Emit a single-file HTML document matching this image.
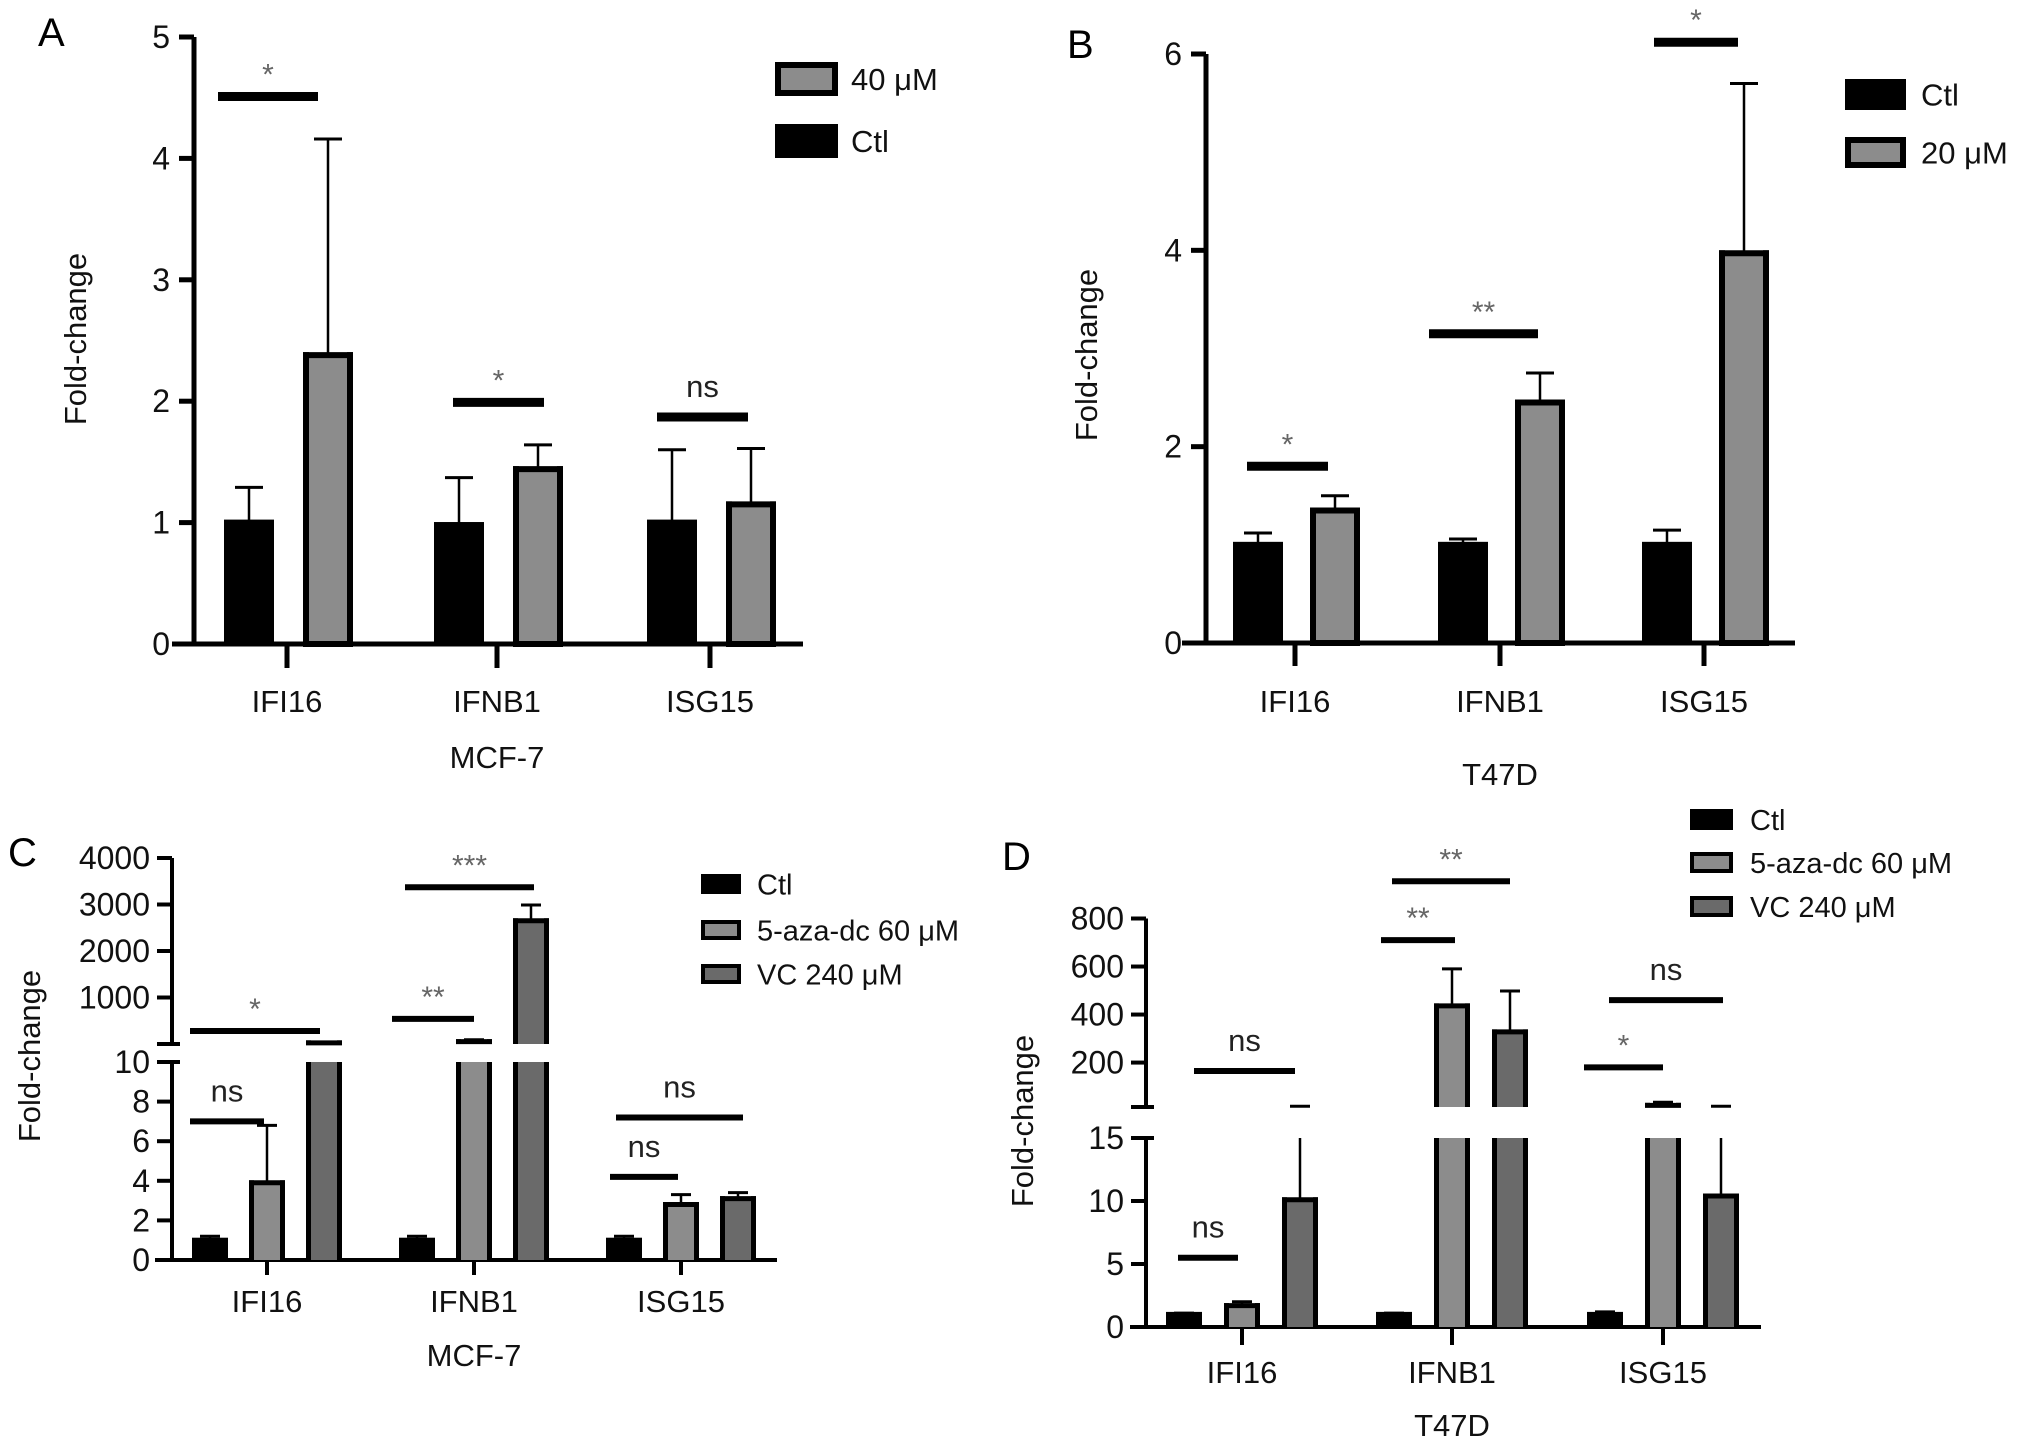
<!DOCTYPE html>
<html><head><meta charset="utf-8">
<style>
html,body{margin:0;padding:0;background:#fff;}
svg{display:block;font-family:"Liberation Sans",Arial,sans-serif;}
</style></head>
<body>
<svg id="fig" width="2031" height="1448" viewBox="0 0 2031 1448" xmlns="http://www.w3.org/2000/svg"></svg>
<script>
// ---------- DATA ----------
const categories = ["IFI16","IFNB1","ISG15"];
// Panel A (MCF-7)
const aSeries = ["40 μM","Ctl"];
const aCtl = [1.0, 0.98, 1.0];
const aCtlErr = [1.29, 1.37, 1.60];
const aTrt = [2.38, 1.44, 1.15];
const aTrtErr = [4.16, 1.64, 1.61];
const aTicks = [0,1,2,3,4,5];
const aSigVals = [4.51, 1.99, 1.87];
const aSigLabels = ["*","*","ns"];
// Panel B (T47D)
const bSeries = ["Ctl","20 μM"];
const bCtl = [1.0, 1.0, 1.0];
const bCtlErr = [1.12, 1.06, 1.15];
const bTrt = [1.35, 2.45, 3.97];
const bTrtErr = [1.50, 2.75, 5.70];
const bTicks = [0,2,4,6];
const bSigVals = [1.80, 3.15, 6.12];
const bSigLabels = ["*","**","*"];
// Panel C (MCF-7, broken axis)
const cSeries = ["Ctl","5-aza-dc 60 μM","VC 240 μM"];
const cCtl = [1.0, 1.0, 1.0];
const cCtlErr = [1.2, 1.2, 1.2];
const cAza = [3.9, 50, 2.8];
const cAzaErr = [6.8, 92, 3.3];
const cVc = [25, 2650, 3.1];
const cVcErr = [40, 2990, 3.4];
const cLowerTicks = [0,2,4,6,8,10];
const cUpperTicks = [1000,2000,3000,4000];
const cSigVals = [280, 3370, 540, 7.0, 7.2, 4.2];
const cSigLabels = ["*","***","**","ns","ns","ns"];
// Panel D (T47D, broken axis)
const dSeries = ["Ctl","5-aza-dc 60 μM","VC 240 μM"];
const dCtl = [1.0, 1.0, 1.0];
const dCtlErr = [1.1, 1.1, 1.2];
const dAza = [1.7, 436, 22];
const dAzaErr = [2.0, 590, 35];
const dVc = [10.1, 328, 10.4];
const dVcErr = [18, 498, 18];
const dLowerTicks = [0,5,10,15];
const dUpperTicks = [200,400,600,800];
const dSigVals = [165, 5.5, 955, 710, 460, 180];
const dSigLabels = ["ns","ns","**","**","ns","*"];

// ---------- DRAWING ----------
const NS = "http://www.w3.org/2000/svg";
const svg = document.getElementById('fig');
function mk(tag, attrs, parent){
  const e = document.createElementNS(NS, tag);
  for (const k in attrs) e.setAttribute(k, attrs[k]);
  (parent||svg).appendChild(e);
  return e;
}
function ln(g,x1,y1,x2,y2,w){ return mk('line',{x1,y1,x2,y2,stroke:'#000','stroke-width':w},g); }
function tx(g,x,y,s,size,anchor,fill){
  const t = mk('text',{x,y,'font-size':size,'text-anchor':anchor||'middle',fill:fill||'#111'},g);
  t.textContent = s; return t;
}

function makeScale(cfg){
  if(!cfg.broken){
    return v => cfg.y0 - (v - cfg.min)/(cfg.max - cfg.min)*(cfg.y0 - cfg.yTop);
  }
  return v => {
    if (v <= cfg.lowMax) return cfg.y0 - v/cfg.lowMax*(cfg.y0 - cfg.lowTop);
    return cfg.upBot - (v - cfg.upMin)/(cfg.upMax - cfg.upMin)*(cfg.upBot - cfg.upTop);
  };
}

function drawPanel(cfg){
  const g = mk('g',{});
  
  
  const y = makeScale(cfg);
  const aw = cfg.axisW;
  const pl = tx(g, cfg.letterX, cfg.letterY, cfg.letter, 40, 'start', '#000');
  
  
  const ya = mk('g',{},g);
  
  
  if(!cfg.broken){
    ln(ya, cfg.ax, cfg.y0+aw/2, cfg.ax, cfg.yTop, aw);
    cfg.ticks.forEach(t=>{
      ln(ya, cfg.ax-15, y(t), cfg.ax, y(t), aw);
      const tl = tx(ya, cfg.ax-24, y(t)+11, String(t), cfg.tickFont, 'end');
      
      
    });
  } else {
    ln(ya, cfg.ax, cfg.y0+aw/2, cfg.ax, cfg.lowTop, aw);
    ln(ya, cfg.ax, cfg.upBot, cfg.ax, cfg.upTop, aw);
    ln(ya, cfg.ax-15, cfg.upBot, cfg.ax+8, cfg.upBot, aw);
    ln(ya, cfg.ax-15, cfg.lowTop, cfg.ax+8, cfg.lowTop, aw);
    cfg.lowTicks.forEach(t=>{
      ln(ya, cfg.ax-15, y(t), cfg.ax, y(t), aw);
      const tl = tx(ya, cfg.ax-22, y(t)+11, String(t), cfg.tickFont, 'end');
      
      
    });
    cfg.upTicks.forEach(t=>{
      ln(ya, cfg.ax-15, y(t), cfg.ax, y(t), aw);
      const tl = tx(ya, cfg.ax-22, y(t)+11, String(t), cfg.tickFont, 'end');
      
      
    });
  }
  const yt = tx(g, 0, 0, 'Fold-change', 31, 'middle', '#111');
  yt.setAttribute('transform', `translate(${cfg.titleX},${cfg.titleY}) rotate(-90)`);
  
  
  const xa = mk('g',{},g);
  
  
  ln(xa, cfg.xStart, cfg.y0, cfg.xEnd, cfg.y0, aw);
  categories.forEach((c,i)=>{
    const cx = cfg.cats[i];
    ln(xa, cx, cfg.y0, cx, cfg.xTickEnd, aw);
    const cl = tx(xa, cx, cfg.catY, c, cfg.catFont, 'middle');
    
    
  });
  const xt = tx(g, cfg.cats[1], cfg.xTitleY, cfg.xTitle, cfg.catFont, 'middle');
  
  

  const bw = cfg.barW, bs = cfg.barStroke;
  cfg.series.forEach((s, si)=>{
    s.vals.forEach((v, i)=>{
      const cx = cfg.cats[i] + cfg.offsets[si];
      const bg = mk('g',{},g);
      
      
      // segments: [bottomY, topY, closedBottom, closedTop]
      const segs = [];
      if(!cfg.broken || v <= cfg.lowMax){
        segs.push([y(0), y(v), true, true]);
      } else {
        segs.push([y(0), cfg.lowTop, true, false]);
        segs.push([cfg.upBot, y(v), false, true]);
      }
      const L = cx-bw/2, R = cx+bw/2;
      segs.forEach(([yb,ytop,cb,ct])=>{
        const h = Math.max(yb-ytop, 0);
        if (s.fill === '#000'){
          mk('rect',{x:L, y:ytop-(ct?bs/2:0), width:bw, height:h+(ct?bs/2:0), fill:'#000'},bg);
        } else {
          mk('rect',{x:L, y:ytop, width:bw, height:h, fill:s.fill},bg);
          const t0 = ct ? ytop - bs/2 : ytop;
          ln(bg, L+bs/2, yb, L+bs/2, t0, bs);
          ln(bg, R-bs/2, yb, R-bs/2, t0, bs);
          if (ct) ln(bg, L, ytop, R, ytop, bs);
          if (cb && !cfg.broken) ln(bg, L, yb, R, yb, bs);
        }
      });
      const e = s.err[i];
      const capW = cfg.capW;
      if(!cfg.broken || e <= cfg.lowMax || v > cfg.lowMax){
        ln(bg, cx, y(v), cx, y(e), 2.5);
      } else {
        ln(bg, cx, y(v), cx, cfg.lowTop, 2.5);
        ln(bg, cx, cfg.upBot, cx, y(e), 2.5);
      }
      ln(bg, cx-capW/2, y(e), cx+capW/2, y(e), 3);
    });
  });

  cfg.sig.vals.forEach((v,i)=>{
    const [x1,x2] = cfg.sig.xs[i];
    const sg = mk('g',{},g);
    
    
    ln(sg, x1, y(v), x2, y(v), cfg.sigW);
    const lab = cfg.sig.labels[i];
    if (lab === 'ns') tx(sg, (x1+x2)/2, y(v)-20, lab, cfg.catFont, 'middle', '#222');
    else tx(sg, (x1+x2)/2, y(v)-12, lab, 30, 'middle', '#666');
  });

  cfg.legend.forEach((L,i)=>{
    const lg = mk('g',{},g);
    
    
    const [bx,by,bw2,bh] = L.box;
    if(L.fill==='#000') mk('rect',{x:bx,y:by,width:bw2,height:bh,fill:'#000'},lg);
    else mk('rect',{x:bx+cfg.legStroke/2,y:by+cfg.legStroke/2,width:bw2-cfg.legStroke,height:bh-cfg.legStroke,fill:L.fill,stroke:'#000','stroke-width':cfg.legStroke},lg);
    tx(lg, L.tx, by+bh/2+cfg.legFont*0.36, L.text, cfg.legFont, 'start', '#111');
  });
}

const GRAY = '#8c8c8c', DARK = '#6a6a6a';

drawPanel({
  name:'panel-a-mcf7', letter:'A', letterX:38, letterY:46,
  ax:194, y0:644, yTop:37, min:0, max:5, ticks:aTicks, axisW:5,
  xStart:172, xEnd:803, cats:[287,497,710], xTickEnd:668, catY:712, xTitleY:768, xTitle:'MCF-7',
  titleX:86, titleY:339, tickFont:32, catFont:31,
  barW:50, barStroke:6, capW:28, offsets:[-38,41],
  series:[{key:'ctl',vals:aCtl,err:aCtlErr,fill:'#000'},{key:'40um',vals:aTrt,err:aTrtErr,fill:GRAY}],
  sig:{vals:aSigVals, labels:aSigLabels, xs:[[218,318],[453,544],[657,748]]}, sigW:9,
  legend:[{box:[775,62,63,34],fill:GRAY,text:aSeries[0],tx:851},{box:[775,124,63,34],fill:'#000',text:aSeries[1],tx:851}],
  legStroke:6, legFont:31
});

drawPanel({
  name:'panel-b-t47d', letter:'B', letterX:1067, letterY:58,
  ax:1206, y0:643, yTop:54, min:0, max:6, ticks:bTicks, axisW:5,
  xStart:1182, xEnd:1795, cats:[1295,1500,1704], xTickEnd:666, catY:712, xTitleY:785, xTitle:'T47D',
  titleX:1097, titleY:355, tickFont:32, catFont:31,
  barW:50, barStroke:6, capW:28, offsets:[-37,40],
  series:[{key:'ctl',vals:bCtl,err:bCtlErr,fill:'#000'},{key:'20um',vals:bTrt,err:bTrtErr,fill:GRAY}],
  sig:{vals:bSigVals, labels:bSigLabels, xs:[[1247,1328],[1429,1538],[1654,1738]]}, sigW:9,
  legend:[{box:[1845,79,61,31],fill:'#000',text:bSeries[0],tx:1921},{box:[1845,137,61,31],fill:GRAY,text:bSeries[1],tx:1921}],
  legStroke:6, legFont:31
});

drawPanel({
  name:'panel-c-mcf7', letter:'C', letterX:8, letterY:866,
  broken:true, ax:172, y0:1260, lowTop:1062, lowMax:10, upBot:1044, upTop:858, upMin:0, upMax:4000,
  lowTicks:cLowerTicks, upTicks:cUpperTicks, axisW:4,
  xStart:155, xEnd:777, cats:[267,474,681], xTickEnd:1275, catY:1312, xTitleY:1366, xTitle:'MCF-7',
  titleX:40, titleY:1056, tickFont:32, catFont:31,
  barW:36, barStroke:5, capW:20, offsets:[-57,0,57],
  series:[{key:'ctl',vals:cCtl,err:cCtlErr,fill:'#000'},{key:'5-aza',vals:cAza,err:cAzaErr,fill:GRAY},{key:'vc',vals:cVc,err:cVcErr,fill:DARK}],
  sig:{vals:cSigVals, labels:cSigLabels, xs:[[190,320],[405,534],[392,474],[190,264],[616,743],[610,678]]}, sigW:6,
  legend:[{box:[701,874,40,20],fill:'#000',text:cSeries[0],tx:757},{box:[701,920,40,20],fill:GRAY,text:cSeries[1],tx:757},{box:[701,964,40,20],fill:DARK,text:cSeries[2],tx:757}],
  legStroke:4, legFont:29
});

drawPanel({
  name:'panel-d-t47d', letter:'D', letterX:1002, letterY:870,
  broken:true, ax:1146, y0:1327, lowTop:1138, lowMax:15, upBot:1107, upTop:918.5, upMin:15, upMax:800,
  lowTicks:dLowerTicks, upTicks:dUpperTicks, axisW:4,
  xStart:1130, xEnd:1761, cats:[1242,1452,1663], xTickEnd:1345, catY:1383, xTitleY:1436, xTitle:'T47D',
  titleX:1033, titleY:1121, tickFont:32, catFont:31,
  barW:36, barStroke:5, capW:20, offsets:[-58,0,58],
  series:[{key:'ctl',vals:dCtl,err:dCtlErr,fill:'#000'},{key:'5-aza',vals:dAza,err:dAzaErr,fill:GRAY},{key:'vc',vals:dVc,err:dVcErr,fill:DARK}],
  sig:{vals:dSigVals, labels:dSigLabels, xs:[[1194,1295],[1178,1238],[1392,1510],[1381,1455],[1609,1723],[1584,1663]]}, sigW:6,
  legend:[{box:[1690,809,43,21],fill:'#000',text:dSeries[0],tx:1750},{box:[1690,852,43,21],fill:GRAY,text:dSeries[1],tx:1750},{box:[1690,896,43,21],fill:DARK,text:dSeries[2],tx:1750}],
  legStroke:4, legFont:29
});
</script>
</body></html>
